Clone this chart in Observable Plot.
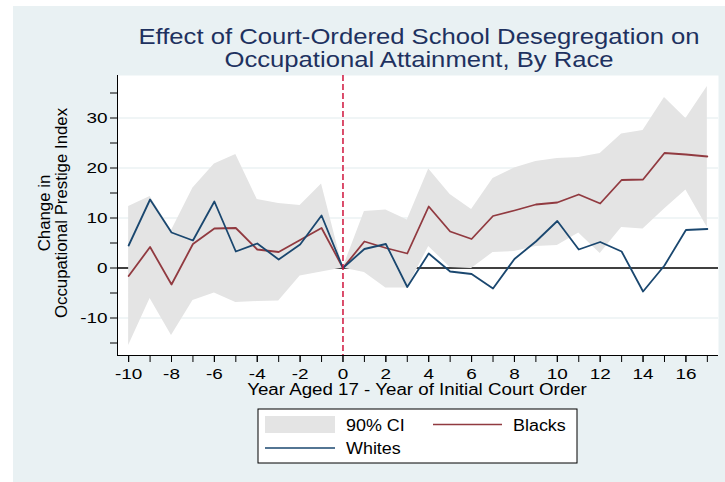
<!DOCTYPE html>
<html><head><meta charset="utf-8">
<script src="https://cdn.jsdelivr.net/npm/d3@7"></script>
<script src="https://cdn.jsdelivr.net/npm/@observablehq/plot@0.6"></script>
<style>
html,body{margin:0;padding:0;background:#fff;}
#wrap{position:relative;width:725px;height:482px;overflow:hidden;}
#panel{position:absolute;left:13px;top:6px;right:0;bottom:0;background:#e9f1f3;}
#wrap svg{position:absolute;left:0;top:0;}
</style></head><body>
<div id="wrap"><div id="panel"></div></div>
<script>
// ---- data ----
const years   = [-10,-9,-8,-7,-6,-5,-4,-3,-2,-1,0,1,2,3,4,5,6,7,8,9,10,11,12,13,14,15,16,17];
const blacks  = [-1.6,4.2,-3.3,4.8,7.9,8.0,3.7,3.2,5.6,8.0,0,5.3,4.0,2.9,12.3,7.3,5.8,10.4,11.5,12.7,13.1,14.7,12.9,17.6,17.7,23.0,22.7,22.3];
const whites  = [4.5,13.7,7.1,5.5,13.3,3.3,4.9,1.7,4.7,10.5,0,3.8,4.8,-3.8,2.9,-0.7,-1.2,-4.1,1.8,5.3,9.4,3.7,5.2,3.3,-4.7,0.5,7.6,7.8];
const ciLower = [-15.5,-6.1,-13.5,-6.5,-5.0,-6.9,-6.7,-6.6,-1.6,-0.8,0,-0.9,-4.0,-4.0,4.3,0.1,-0.1,3.1,3.3,4.3,4.5,7.0,2.9,8.1,7.8,11.8,15.6,8.1];
const ciUpper = [12.3,14.3,7.5,16.0,20.8,22.7,13.7,12.9,12.5,16.8,0,11.3,11.6,9.6,19.8,14.7,11.7,17.9,20.0,21.3,21.9,22.1,22.9,26.8,27.5,34.1,29.9,36.3];
const yMajorTicks = [-10,0,10,20,30];
const yMinorTicks = [-15,-5,5,15,25,35];
const yGridLines  = [-10,10,20,30];
const xLabelTicks = [-10,-8,-6,-4,-2,0,2,4,6,8,10,12,14,16];
const xAllTicks   = years;
const zeroLine    = [0];
const courtOrder  = [0];
const titleLines  = ["Effect of Court-Ordered School Desegregation on","Occupational Attainment, By Race"];
const yLabelLines = ["Change in","Occupational Prestige Index"];
const xLabel      = "Year Aged 17 - Year of Initial Court Order";
const legendCI = "90% CI", legendBlacks = "Blacks", legendWhites = "Whites";

const data = years.map((year,i)=>({year, blacks:blacks[i], whites:whites[i], lo:ciLower[i], hi:ciUpper[i]}));
const xDomain = [-10.52, 17.52], yDomain = [-17.5, 38.5];
const FONT = "'Liberation Sans', Arial, Helvetica, sans-serif";
const RED = "#913a40", BLUE = "#1a476f", CI = "#e4e4e4";

const svg = Plot.plot({
  width: 725, height: 482,
  marginLeft: 117, marginRight: 7, marginTop: 75, marginBottom: 127,
  style: {background: "transparent", fontFamily: FONT, fontSize: "15px", color: "#000", overflow: "visible"},
  x: {domain: xDomain},
  y: {domain: yDomain},
  marks: [
    Plot.frame({fill: "#fff", stroke: "none"}),
    Plot.ruleY(yGridLines, {stroke: "#e2ebee", strokeWidth: 1.2}),
    Plot.ruleY(zeroLine, {stroke: "#000", strokeWidth: 1.5}),
    Plot.areaY(data, {x: "year", y1: "lo", y2: "hi", fill: CI}),
    Plot.line(data, {x: "year", y: "blacks", stroke: RED, strokeWidth: 1.8}),
    Plot.line(data, {x: "year", y: "whites", stroke: BLUE, strokeWidth: 1.8}),
    Plot.ruleX(courtOrder, {stroke: "#d0143c", strokeWidth: 1.5, strokeDasharray: "6,3"}),
    Plot.ruleX([xDomain[0]], {stroke: "#000"}),
    Plot.ruleY([yDomain[0]], {stroke: "#000"}),
    Plot.axisY({ticks: yMajorTicks, tickSize: 7, tickPadding: 3, label: null, fontSize: 15.5, tickFormat: d => String(d)}),
    Plot.axisY({ticks: yMinorTicks, tickSize: 7, label: null, tickFormat: () => ""}),
    Plot.axisX({ticks: xLabelTicks, tickSize: 7, tickPadding: 5, label: null, fontSize: 15.5, tickFormat: d => String(d)}),
    Plot.axisX({ticks: xAllTicks, tickSize: 7, label: null, tickFormat: () => ""})
  ]
});
document.getElementById("wrap").appendChild(svg);
const s = d3.select(svg);
// tick labels: a bit wider than the default glyphs
svg.querySelectorAll("g[aria-label$='tick label'] text").forEach(t => t.setAttribute("data-stretch", 1.22));

// title
titleLines.forEach((t, i) => {
  s.append("text").attr("x", 419).attr("y", [44, 67][i]).attr("text-anchor", "middle")
    .attr("font-family", FONT).attr("font-size", 22.3).attr("fill", "#1e3160").attr("data-stretch", 1.15).text(t);
});
// y label
yLabelLines.forEach((t, i) => {
  s.append("text").attr("transform", `translate(${[50, 67][i]},213) rotate(-90)`).attr("text-anchor", "middle")
    .attr("font-family", FONT).attr("font-size", 16).attr("fill", "#000").attr("data-stretch", 1.05).text(t);
});
// x label
s.append("text").attr("x", 417).attr("y", 395).attr("text-anchor", "middle")
  .attr("font-family", FONT).attr("font-size", 16).attr("fill", "#000").attr("data-stretch", 1.17).text(xLabel);

// legend
const lg = s.append("g");
lg.append("rect").attr("x", 258).attr("y", 409).attr("width", 319).attr("height", 54).attr("fill", "#fff").attr("stroke", "#000").attr("stroke-width", 1);
lg.append("rect").attr("x", 265).attr("y", 416).attr("width", 70).attr("height", 17).attr("fill", CI);
lg.append("line").attr("x1", 433).attr("x2", 502).attr("y1", 424.5).attr("y2", 424.5).attr("stroke", RED).attr("stroke-width", 1.5);
lg.append("line").attr("x1", 265).attr("x2", 335).attr("y1", 448).attr("y2", 448).attr("stroke", BLUE).attr("stroke-width", 1.5);
[[legendCI, 346, 431], [legendBlacks, 513, 431], [legendWhites, 346, 454]].forEach(([t, x, y]) => {
  lg.append("text").attr("x", x).attr("y", y).attr("text-anchor", "start").attr("font-family", FONT)
    .attr("font-size", 16).attr("fill", "#000").text(t);
});

// horizontal stretch of text to match reference proportions
svg.querySelectorAll("text").forEach(t => {
  const f = t.getAttribute("data-stretch") ? +t.getAttribute("data-stretch") : 1.12;
  const tsp = t.querySelectorAll("tspan");
  const targets = tsp.length ? Array.from(tsp) : [t];
  targets.forEach(el => {
    const L = el.getComputedTextLength();
    if (L > 0) { el.setAttribute("textLength", L * f); el.setAttribute("lengthAdjust", "spacingAndGlyphs"); }
  });
});
</script>
</body></html>
